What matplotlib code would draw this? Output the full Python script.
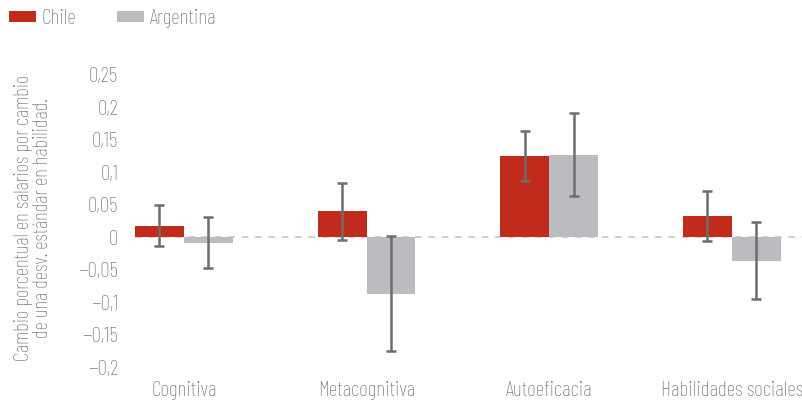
import matplotlib.pyplot as plt
import numpy as np

categorias = ["Cognitiva", "Metacognitiva", "Autoeficacia", "Habilidades sociales"]
chile = [0.018, 0.040, 0.125, 0.032]
chile_lo = [-0.014, -0.004, 0.086, -0.006]
chile_hi = [0.049, 0.084, 0.164, 0.071]
argentina = [-0.009, -0.087, 0.127, -0.037]
arg_lo = [-0.048, -0.176, 0.064, -0.095]
arg_hi = [0.031, 0.002, 0.191, 0.023]
yticks = [-0.2, -0.15, -0.1, -0.05, 0, 0.05, 0.1, 0.15, 0.2, 0.25]

plt.rcParams['font.family'] = ['Barlow Condensed', 'DejaVu Sans']
plt.rcParams['font.weight'] = 'light'
rojo = '#C02B1B'
gris = '#BBBCC0'
txt = '#707070'

fig = plt.figure(figsize=(8.03, 4.01), dpi=100)
ax = fig.add_axes([135/803, (401-367)/401, 668/803, 292/401])

x = np.arange(len(categorias))
w = 0.268
chile = np.array(chile); argentina = np.array(argentina)
err_c = [chile - np.array(chile_lo), np.array(chile_hi) - chile]
err_a = [argentina - np.array(arg_lo), np.array(arg_hi) - argentina]

# linea de cero punteada
ax.axhline(0, color='#c8c8c8', lw=1.2, ls=(0, (4, 4)), zorder=1)
ax.bar(x - w/2, chile, w, color=rojo, zorder=2, label='Chile')
ax.bar(x + w/2, argentina, w, color=gris, zorder=2, label='Argentina')
ax.errorbar(x - w/2, chile, yerr=err_c, fmt='none', ecolor='#6d6d6d',
            elinewidth=1.8, capsize=3.5, capthick=1.8, zorder=3)
ax.errorbar(x + w/2, argentina, yerr=err_a, fmt='none', ecolor='#6d6d6d',
            elinewidth=1.8, capsize=3.5, capthick=1.8, zorder=3)

ax.set_xlim(-w, 3.39)
ax.set_ylim(-0.2, 0.25)
ax.set_yticks(yticks)
ax.set_yticklabels([('%g' % v).replace('-', '\u2212').replace('.', ',') for v in yticks])
ax.set_xticks(x)
ax.set_xticklabels(categorias)
ax.tick_params(axis='both', length=0, labelsize=15.5, colors=txt)
ax.tick_params(axis='y', pad=12)
ax.tick_params(axis='x', pad=10)
for s in ax.spines.values():
    s.set_visible(False)

fig.text(33/803, (401-218)/401,
         "Cambio porcentual en salarios por cambio\nde una desv. estándar en habilidad.",
         rotation=90, ha='center', va='center', multialignment='center',
         fontsize=15, color=txt, linespacing=1.05)

fig.legend(loc='center left', bbox_to_anchor=(9/803, 1 - 18.5/401), ncol=2, frameon=False,
           fontsize=15.5, labelcolor=txt, handlelength=1.25, handleheight=0.42,
           handletextpad=0.28, columnspacing=1.86, borderpad=0, borderaxespad=0)

fig.savefig('out.png', dpi=100)
